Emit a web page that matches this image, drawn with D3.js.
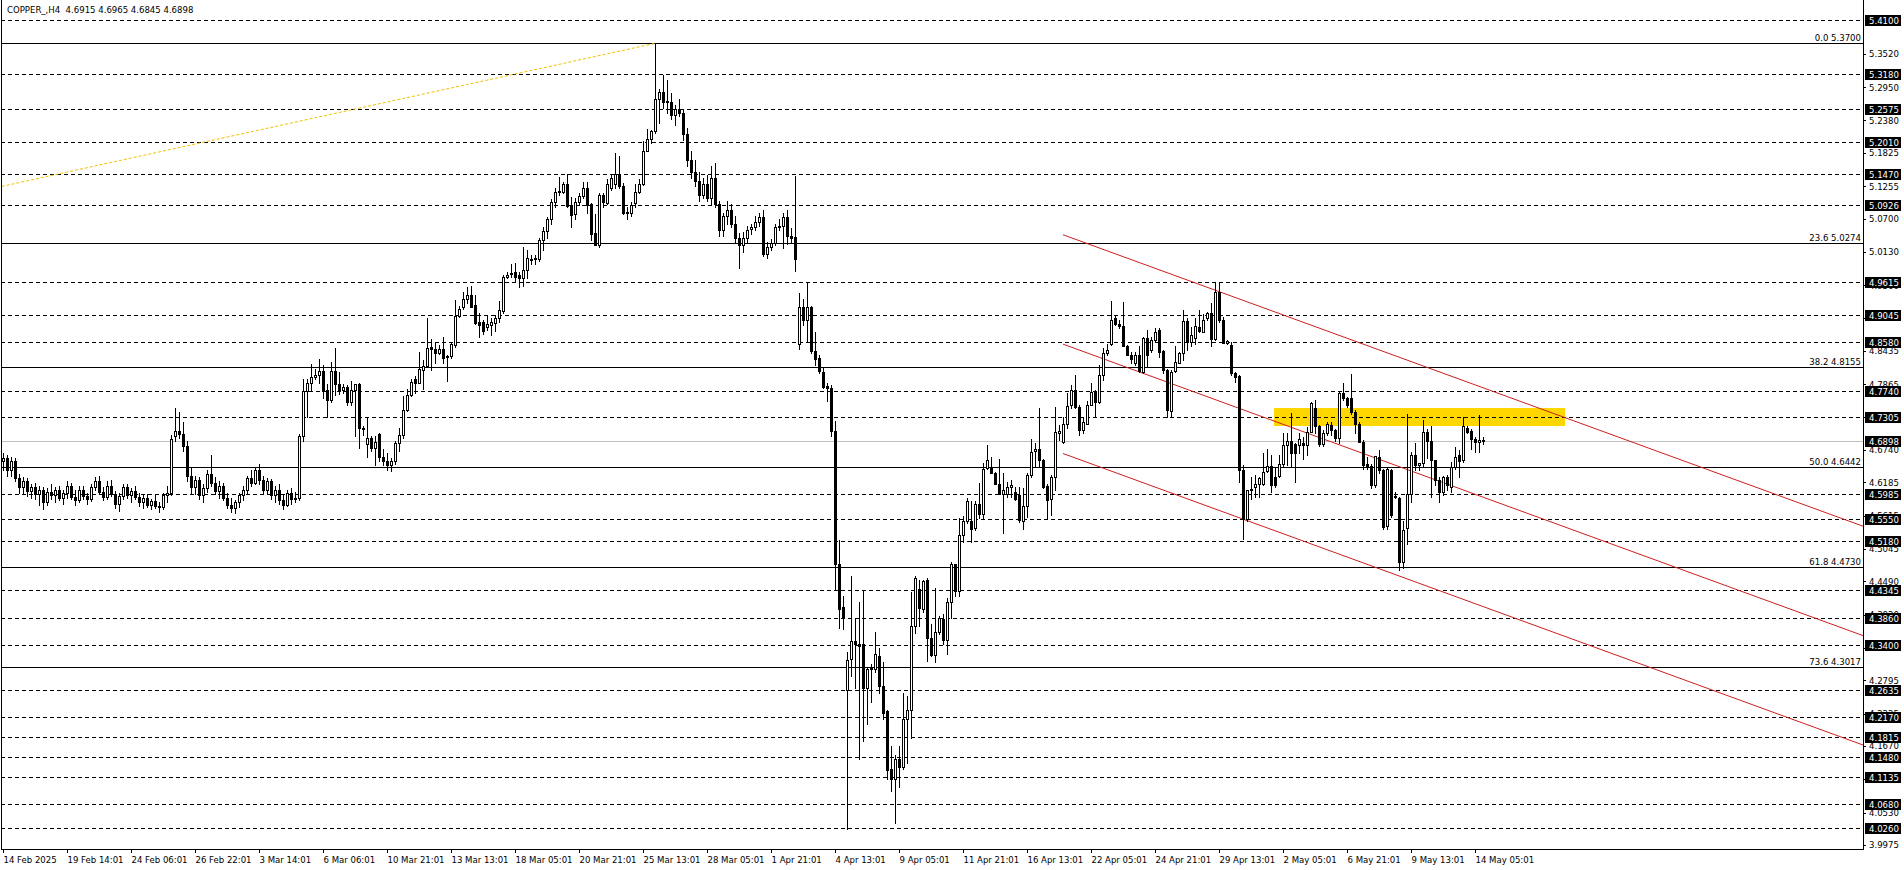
<!DOCTYPE html>
<html><head><meta charset="utf-8">
<script src="https://cdn.jsdelivr.net/npm/d3@7"></script>
<style>
html,body{margin:0;padding:0;background:#fff;overflow:hidden}
svg{display:block}
text{font-family:"DejaVu Sans Condensed","Liberation Sans",Arial,sans-serif;font-size:9.5px}
</style></head><body>
<svg id="c" width="1904" height="870"></svg>
<script>
// ---------------- data ----------------
const title = "COPPER_,H4  4.6915 4.6965 4.6845 4.6898";

const open = [
4.655,4.660,4.640,4.655,4.625,4.610,4.620,4.603,4.610,4.598,
4.605,4.585,4.602,4.596,4.605,4.592,4.600,4.612,4.594,4.588,
4.606,4.595,4.590,4.610,4.620,4.602,4.594,4.612,4.598,4.582,
4.595,4.610,4.596,4.603,4.594,4.585,4.592,4.580,4.586,4.578,
4.576,4.596,4.600,4.698,4.706,4.701,4.681,4.630,4.610,4.622,
4.596,4.608,4.632,4.618,4.604,4.612,4.592,4.580,4.574,4.584,
4.596,4.606,4.625,4.618,4.640,4.622,4.605,4.620,4.596,4.606,
4.588,4.580,4.600,4.590,4.592,4.698,4.774,4.788,4.798,4.802,
4.809,4.776,4.760,4.809,4.787,4.776,4.781,4.756,4.776,4.786,
4.712,4.684,4.694,4.677,4.701,4.662,4.655,4.648,4.655,4.685,
4.700,4.743,4.768,4.795,4.789,4.811,4.818,4.850,4.846,4.840,
4.846,4.834,4.835,4.854,4.903,4.919,4.932,4.939,4.922,4.893,
4.893,4.884,4.888,4.891,4.899,4.912,4.970,4.975,4.978,4.973,
4.968,4.982,5.001,5.001,5.000,5.033,5.049,5.069,5.099,5.116,
5.116,5.129,5.093,5.078,5.099,5.109,5.122,5.095,5.045,5.025,
5.110,5.097,5.122,5.130,5.145,5.126,5.082,5.079,5.097,5.116,
5.129,5.186,5.207,5.220,5.274,5.287,5.272,5.270,5.248,5.258,
5.250,5.215,5.170,5.150,5.135,5.110,5.130,5.105,5.140,5.095,
5.050,5.075,5.085,5.060,5.036,5.025,5.036,5.052,5.055,5.064,
5.072,5.009,5.021,5.028,5.055,5.057,5.072,5.041,5.039,4.856,
4.918,4.897,4.919,4.844,4.831,4.807,4.784,4.780,4.706,4.479,
4.405,4.262,4.316,4.346,4.342,4.341,4.266,4.303,4.298,4.321,
4.270,4.226,4.128,4.110,4.145,4.131,4.214,4.228,4.372,4.436,
4.401,4.452,4.352,4.323,4.362,4.385,4.348,4.414,4.478,4.433,
4.529,4.553,4.552,4.541,4.582,4.565,4.643,4.645,4.635,4.616,
4.598,4.598,4.611,4.602,4.596,4.553,4.578,4.631,4.672,4.675,
4.657,4.612,4.589,4.628,4.702,4.688,4.718,4.750,4.776,4.748,
4.708,4.719,4.751,4.773,4.756,4.802,4.839,4.855,4.900,4.890,
4.886,4.852,4.837,4.823,4.837,4.808,4.865,4.845,4.862,4.879,
4.843,4.811,4.741,4.809,4.823,4.839,4.894,4.858,4.866,4.885,
4.876,4.899,4.909,4.864,4.945,4.897,4.857,4.853,4.805,4.800,
4.640,4.556,4.605,4.611,4.616,4.616,4.638,4.646,4.628,4.629,
4.649,4.682,4.689,4.684,4.682,4.685,4.682,4.705,4.745,4.714,
4.684,4.702,4.716,4.708,4.695,4.772,4.762,4.762,4.739,4.719,
4.688,4.649,4.647,4.614,4.662,4.639,4.543,4.639,4.594,4.591,
4.482,4.540,4.599,4.665,4.648,4.651,4.705,4.690,4.656,4.622,
4.602,4.628,4.611,4.644,4.665,4.656,4.712,4.707,4.693,4.688,
4.6915];

const high = [
4.668,4.665,4.662,4.660,4.632,4.628,4.625,4.615,4.618,4.612,
4.610,4.608,4.615,4.610,4.612,4.606,4.620,4.618,4.605,4.612,
4.612,4.600,4.615,4.628,4.630,4.610,4.620,4.622,4.604,4.600,
4.615,4.615,4.608,4.612,4.600,4.598,4.598,4.590,4.596,4.584,
4.600,4.612,4.700,4.746,4.739,4.722,4.690,4.645,4.630,4.628,
4.615,4.640,4.665,4.628,4.620,4.618,4.600,4.592,4.588,4.600,
4.612,4.630,4.640,4.645,4.650,4.630,4.626,4.624,4.612,4.615,
4.598,4.605,4.608,4.602,4.701,4.795,4.795,4.821,4.813,4.830,
4.819,4.787,4.824,4.848,4.807,4.786,4.785,4.792,4.786,4.788,
4.714,4.731,4.697,4.697,4.703,4.675,4.668,4.660,4.690,4.712,
4.766,4.779,4.795,4.800,4.841,4.827,4.900,4.864,4.858,4.854,
4.867,4.836,4.859,4.931,4.920,4.945,4.952,4.955,4.939,4.908,
4.896,4.903,4.899,4.905,4.929,4.973,4.979,4.993,4.994,4.979,
5.021,5.017,5.008,5.008,5.036,5.056,5.073,5.103,5.122,5.141,
5.132,5.146,5.107,5.105,5.113,5.132,5.133,5.096,5.077,5.113,
5.113,5.137,5.145,5.182,5.177,5.131,5.090,5.099,5.130,5.137,
5.202,5.223,5.222,5.370,5.291,5.316,5.307,5.285,5.265,5.275,
5.258,5.225,5.185,5.170,5.150,5.140,5.145,5.160,5.165,5.100,
5.080,5.100,5.095,5.075,5.045,5.047,5.058,5.060,5.075,5.080,
5.085,5.030,5.035,5.060,5.070,5.080,5.085,5.053,5.143,4.943,
4.933,4.959,4.921,4.875,4.837,4.816,4.789,4.785,4.723,4.520,
4.424,4.328,4.458,4.386,4.414,4.434,4.300,4.307,4.362,4.335,
4.310,4.228,4.167,4.151,4.167,4.257,4.253,4.431,4.458,4.452,
4.452,4.454,4.376,4.438,4.390,4.393,4.421,4.482,4.479,4.558,
4.560,4.592,4.586,4.586,4.617,4.651,4.682,4.661,4.636,4.659,
4.634,4.619,4.623,4.611,4.611,4.608,4.634,4.693,4.685,4.745,
4.659,4.615,4.631,4.748,4.716,4.731,4.771,4.785,4.802,4.751,
4.731,4.758,4.788,4.776,4.819,4.848,4.855,4.929,4.905,4.896,
4.928,4.853,4.842,4.842,4.851,4.868,4.879,4.868,4.882,4.882,
4.845,4.813,4.811,4.851,4.842,4.913,4.899,4.885,4.899,4.913,
4.906,4.910,4.925,4.960,4.960,4.902,4.862,4.859,4.808,4.802,
4.648,4.606,4.628,4.631,4.628,4.668,4.676,4.665,4.645,4.665,
4.702,4.702,4.737,4.685,4.702,4.696,4.713,4.756,4.759,4.716,
4.708,4.722,4.722,4.710,4.774,4.788,4.764,4.804,4.743,4.722,
4.691,4.662,4.649,4.663,4.674,4.642,4.645,4.642,4.602,4.594,
4.553,4.736,4.670,4.685,4.652,4.725,4.710,4.714,4.657,4.628,
4.629,4.631,4.654,4.679,4.674,4.731,4.714,4.709,4.696,4.734,
4.6965];

const low = [
4.640,4.630,4.630,4.620,4.600,4.598,4.595,4.592,4.590,4.580,
4.572,4.580,4.590,4.585,4.588,4.582,4.592,4.590,4.580,4.585,
4.590,4.582,4.586,4.605,4.598,4.588,4.590,4.595,4.575,4.570,
4.590,4.592,4.585,4.590,4.578,4.575,4.576,4.572,4.574,4.568,
4.572,4.585,4.596,4.690,4.695,4.672,4.620,4.600,4.598,4.590,
4.585,4.602,4.612,4.598,4.592,4.588,4.575,4.568,4.566,4.576,
4.588,4.600,4.612,4.615,4.615,4.598,4.600,4.590,4.585,4.582,
4.572,4.578,4.582,4.584,4.588,4.690,4.731,4.774,4.795,4.788,
4.762,4.730,4.756,4.768,4.769,4.771,4.750,4.750,4.697,4.677,
4.699,4.662,4.672,4.648,4.655,4.648,4.640,4.638,4.650,4.672,
4.695,4.740,4.766,4.772,4.788,4.778,4.815,4.810,4.822,4.838,
4.822,4.792,4.831,4.850,4.902,4.915,4.925,4.918,4.889,4.867,
4.872,4.879,4.871,4.878,4.893,4.908,4.968,4.970,4.962,4.952,
4.955,4.968,4.993,4.992,4.998,5.016,5.036,5.061,5.090,5.110,
5.114,5.090,5.055,5.070,5.093,5.105,5.079,5.033,5.024,5.022,
5.089,5.095,5.119,5.122,5.122,5.078,5.070,5.074,5.090,5.113,
5.127,5.185,5.200,5.217,5.233,5.260,5.251,5.240,5.230,5.245,
5.205,5.160,5.140,5.125,5.100,5.105,5.100,5.095,5.090,5.040,
5.040,5.060,5.055,5.030,4.985,5.012,5.030,5.043,5.050,5.058,
5.006,5.002,5.016,5.025,5.050,5.020,5.026,5.028,4.981,4.846,
4.887,4.861,4.840,4.820,4.806,4.780,4.758,4.697,4.434,4.369,
4.367,4.025,4.286,4.266,4.145,4.176,4.204,4.242,4.293,4.257,
4.214,4.111,4.090,4.035,4.097,4.128,4.138,4.180,4.360,4.372,
4.396,4.312,4.321,4.310,4.359,4.341,4.324,4.386,4.424,4.424,
4.517,4.548,4.517,4.537,4.558,4.558,4.641,4.634,4.615,4.598,
4.532,4.594,4.594,4.588,4.551,4.539,4.559,4.628,4.645,4.645,
4.608,4.556,4.562,4.605,4.691,4.685,4.711,4.745,4.745,4.699,
4.702,4.719,4.751,4.731,4.755,4.793,4.836,4.853,4.888,4.882,
4.851,4.836,4.822,4.819,4.808,4.805,4.816,4.842,4.859,4.833,
4.805,4.731,4.731,4.808,4.822,4.828,4.845,4.852,4.856,4.876,
4.875,4.896,4.851,4.862,4.893,4.857,4.856,4.802,4.790,4.619,
4.521,4.553,4.589,4.593,4.594,4.613,4.636,4.602,4.610,4.628,
4.647,4.648,4.645,4.619,4.668,4.659,4.665,4.705,4.702,4.680,
4.680,4.700,4.700,4.690,4.685,4.760,4.748,4.736,4.702,4.688,
4.642,4.642,4.608,4.611,4.634,4.539,4.539,4.559,4.591,4.468,
4.471,4.513,4.585,4.640,4.640,4.645,4.660,4.594,4.613,4.585,
4.596,4.606,4.602,4.642,4.628,4.653,4.702,4.676,4.671,4.671,
4.6845];

const close = [
4.660,4.640,4.655,4.625,4.610,4.620,4.603,4.610,4.598,4.605,
4.585,4.602,4.596,4.605,4.592,4.600,4.612,4.594,4.588,4.606,
4.595,4.590,4.610,4.620,4.602,4.594,4.612,4.598,4.582,4.595,
4.610,4.596,4.603,4.594,4.585,4.592,4.580,4.586,4.578,4.576,
4.596,4.600,4.692,4.706,4.701,4.681,4.630,4.610,4.622,4.596,
4.608,4.632,4.618,4.604,4.612,4.592,4.580,4.574,4.584,4.596,
4.606,4.625,4.618,4.640,4.622,4.605,4.620,4.596,4.606,4.588,
4.580,4.600,4.590,4.592,4.698,4.774,4.788,4.798,4.802,4.809,
4.775,4.760,4.809,4.787,4.774,4.781,4.756,4.776,4.786,4.712,
4.710,4.694,4.677,4.688,4.662,4.655,4.648,4.655,4.685,4.700,
4.743,4.768,4.791,4.789,4.812,4.818,4.848,4.846,4.839,4.846,
4.831,4.834,4.855,4.903,4.916,4.932,4.939,4.919,4.891,4.888,
4.878,4.889,4.893,4.899,4.913,4.970,4.974,4.976,4.970,4.968,
4.982,5.002,5.001,5.002,5.033,5.049,5.069,5.099,5.116,5.117,
5.129,5.092,5.076,5.099,5.109,5.122,5.093,5.043,5.025,5.110,
5.099,5.130,5.139,5.146,5.125,5.079,5.079,5.093,5.116,5.129,
5.186,5.207,5.220,5.274,5.287,5.270,5.270,5.248,5.258,5.250,
5.215,5.170,5.150,5.135,5.110,5.130,5.105,5.140,5.095,5.050,
5.075,5.085,5.060,5.036,5.025,5.036,5.050,5.055,5.064,5.072,
5.009,5.021,5.028,5.055,5.057,5.072,5.041,5.036,5.001,4.918,
4.897,4.919,4.844,4.830,4.809,4.782,4.780,4.706,4.479,4.401,
4.388,4.314,4.346,4.342,4.338,4.266,4.298,4.298,4.324,4.269,
4.224,4.126,4.111,4.145,4.131,4.214,4.228,4.372,4.455,4.403,
4.449,4.352,4.323,4.362,4.386,4.348,4.414,4.479,4.433,4.529,
4.553,4.587,4.539,4.582,4.565,4.641,4.657,4.634,4.616,4.598,
4.606,4.611,4.614,4.589,4.554,4.578,4.631,4.670,4.675,4.656,
4.611,4.588,4.628,4.704,4.707,4.718,4.749,4.777,4.748,4.708,
4.722,4.751,4.773,4.756,4.802,4.839,4.845,4.897,4.889,4.886,
4.852,4.836,4.830,4.837,4.809,4.865,4.836,4.862,4.876,4.842,
4.811,4.742,4.808,4.825,4.839,4.894,4.858,4.871,4.886,4.877,
4.897,4.909,4.864,4.945,4.897,4.857,4.861,4.805,4.798,4.640,
4.556,4.606,4.607,4.616,4.625,4.636,4.646,4.613,4.613,4.649,
4.682,4.689,4.668,4.669,4.692,4.682,4.705,4.754,4.714,4.684,
4.702,4.718,4.708,4.695,4.772,4.762,4.750,4.739,4.719,4.688,
4.648,4.645,4.614,4.663,4.639,4.542,4.642,4.562,4.595,4.482,
4.537,4.599,4.665,4.648,4.651,4.705,4.690,4.656,4.622,4.602,
4.628,4.614,4.644,4.662,4.655,4.714,4.705,4.693,4.688,4.691,
4.6898];

const timeLabels = ["14 Feb 2025","19 Feb 14:01","24 Feb 06:01","26 Feb 22:01","3 Mar 14:01","6 Mar 06:01",
  "10 Mar 21:01","13 Mar 13:01","18 Mar 05:01","20 Mar 21:01","25 Mar 13:01","28 Mar 05:01","1 Apr 21:01",
  "4 Apr 13:01","9 Apr 05:01","11 Apr 21:01","16 Apr 13:01","22 Apr 05:01","24 Apr 21:01","29 Apr 13:01",
  "2 May 05:01","6 May 21:01","9 May 13:01","14 May 05:01"];
const barsPerLabel = 16;

const priceTicks = [5.3520,5.2950,5.2380,5.1825,5.1255,5.0700,5.0130,4.9560,4.9005,4.8435,4.7865,4.7295,
  4.6740,4.6185,4.5615,4.5045,4.4490,4.3920,4.3350,4.2795,4.2225,4.1670,4.1100,4.0530,3.9975];

const hLevels = [5.4100,5.3180,5.2575,5.2010,5.1470,5.0926,4.9615,4.9045,4.8580,4.7740,4.7305,
  4.5985,4.5550,4.5180,4.4345,4.3860,4.3400,4.2635,4.2170,4.1815,4.1480,4.1135,4.0680,4.0260];

const fibRatios = ["0.0","23.6","38.2","50.0","61.8","73.6"];
const fibPrices = [5.3700,5.0274,4.8155,4.6442,4.4730,4.3017];
const fibAnchors = [{bar:-805, price:3.9184},{bar:163, price:5.3700}];

const lastPrice = 4.6898;

const channelAnchors = [{bar:265, price:4.855},{bar:370, price:4.593}];
const channelOffsets = [0.1873, 0, -0.1873];

const zoneBars = [317.75, 390.6];
const zonePrices = [4.7455, 4.7155];

// ---------------- drawing ----------------
const svg = d3.select("#c");
const L = 1, R = 1863, T = 0, B = 849;
const x = d3.scaleLinear().domain([0, 465]).range([3, 1863]);
const y = d3.scaleLinear().domain([4.026, 5.41]).range([828.3, 20]);
const py = p => Math.round(y(p));

svg.append("rect").attr("width",1904).attr("height",870).attr("fill","#fff");
svg.append("defs").append("clipPath").attr("id","clip")
  .append("rect").attr("x",L).attr("y",T).attr("width",R-L).attr("height",B-T);

const plot = svg.append("g").attr("clip-path","url(#clip)").attr("shape-rendering","crispEdges");

// yellow zone
plot.append("rect")
  .attr("x", Math.round(x(zoneBars[0]))).attr("width", Math.round(x(zoneBars[1])-x(zoneBars[0])))
  .attr("y", py(zonePrices[0])).attr("height", py(zonePrices[1]) - py(zonePrices[0]))
  .attr("fill","#FFD700");

// dashed horizontal levels
plot.selectAll("line.hl").data(hLevels).join("line").attr("class","hl")
  .attr("x1",L).attr("x2",R).attr("y1",d=>py(d)+0.5).attr("y2",d=>py(d)+0.5)
  .attr("stroke","#000").attr("stroke-width",1).attr("stroke-dasharray","4,3");

// fib levels
plot.selectAll("line.fib").data(fibPrices).join("line").attr("class","fib")
  .attr("x1",L).attr("x2",R).attr("y1",d=>py(d)+0.5).attr("y2",d=>py(d)+0.5)
  .attr("stroke","#000").attr("stroke-width",1);

// last price line
plot.append("line").attr("x1",L).attr("x2",R).attr("y1",py(lastPrice)+0.5).attr("y2",py(lastPrice)+0.5)
  .attr("stroke","#c0c0c0");

// channel
const chSlope = (channelAnchors[1].price-channelAnchors[0].price)/(channelAnchors[1].bar-channelAnchors[0].bar);
const endBar = x.invert(R);
const chAt = (b,off) => channelAnchors[0].price + (b-channelAnchors[0].bar)*chSlope + off;
const lineG = svg.append("g").attr("clip-path","url(#clip)");
lineG.selectAll("line.ch").data(channelOffsets).join("line").attr("class","ch")
  .attr("x1",x(channelAnchors[0].bar)).attr("x2",x(endBar))
  .attr("y1",d=>y(chAt(channelAnchors[0].bar,d))).attr("y2",d=>y(chAt(endBar,d)))
  .attr("stroke","#cc1f1f").attr("stroke-width",1);

// fib trend line (dotted)
lineG.append("line")
  .attr("x1",x(fibAnchors[0].bar)).attr("y1",y(fibAnchors[0].price))
  .attr("x2",x(fibAnchors[1].bar)).attr("y2",y(fibAnchors[1].price))
  .attr("stroke","#f0c000").attr("stroke-width",1).attr("stroke-dasharray","3,2");

// candles
const idx = d3.range(open.length);
const cg = svg.append("g").attr("clip-path","url(#clip)").attr("shape-rendering","crispEdges");
cg.selectAll("line.w").data(idx).join("line").attr("class","w")
  .attr("x1",i=>Math.round(x(i))+0.5).attr("x2",i=>Math.round(x(i))+0.5)
  .attr("y1",i=>py(high[i])).attr("y2",i=>py(low[i])+1)
  .attr("stroke","#000");
cg.selectAll("rect.b").data(idx).join("rect").attr("class","b")
  .attr("x",i=>Math.round(x(i))-0.5).attr("width",2)
  .attr("y",i=>py(Math.max(open[i],close[i]))+0.5)
  .attr("height",i=>Math.max(1, py(Math.min(open[i],close[i])) - py(Math.max(open[i],close[i]))))
  .attr("fill",i=>close[i]>=open[i]?"#fff":"#000")
  .attr("stroke","#000").attr("stroke-width",1);

// fib labels
svg.selectAll("text.fl").data(fibPrices).join("text").attr("class","fl")
  .attr("x",R-2).attr("y",d=>py(d)-2).attr("text-anchor","end").attr("fill","#000")
  .text((d,i)=>fibRatios[i]+" "+d.toFixed(4));

// frame
const fr = svg.append("g").attr("shape-rendering","crispEdges").attr("stroke","#000");
fr.append("line").attr("x1",L+0.5).attr("x2",L+0.5).attr("y1",T).attr("y2",B+1);
fr.append("line").attr("x1",L).attr("x2",R+1).attr("y1",B+0.5).attr("y2",B+0.5);
fr.append("line").attr("x1",R+0.5).attr("x2",R+0.5).attr("y1",T).attr("y2",B+1);

// right axis
const yAxis = d3.axisRight(y).tickValues(priceTicks).tickFormat(d3.format(".4f")).tickSize(3).tickPadding(3);
const ya = svg.append("g").attr("transform",`translate(${R},0)`).call(yAxis);
ya.select(".domain").remove();
ya.attr("font-size",null).attr("font-family",null);
ya.selectAll("text").attr("fill","#000");
ya.selectAll("line").attr("shape-rendering","crispEdges");

// black level labels
const bl = svg.append("g");
const allLab = hLevels.concat([lastPrice]);
bl.selectAll("rect").data(allLab).join("rect")
  .attr("x",R+2).attr("width",36).attr("y",d=>py(d)-5).attr("height",11).attr("fill","#000");
bl.selectAll("text").data(allLab).join("text")
  .attr("x",R+6).attr("y",d=>py(d)+0.5).attr("dy","0.35em").attr("fill","#fff")
  .text(d=>d.toFixed(4));

// bottom axis
const xAxis = d3.axisBottom(x).tickValues(timeLabels.map((d,i)=>i*barsPerLabel))
  .tickFormat((d,i)=>timeLabels[i]).tickSize(4).tickPadding(3);
const xa = svg.append("g").attr("transform",`translate(0,${B})`).call(xAxis);
xa.select(".domain").remove();
xa.attr("font-size",null).attr("font-family",null);
xa.selectAll("text").attr("text-anchor","start").attr("x",0).attr("fill","#000");
xa.selectAll("line").attr("shape-rendering","crispEdges");

// title
svg.append("text").attr("x",7).attr("y",13).attr("fill","#000").style("white-space","pre").text(title);
</script>
</body></html>
